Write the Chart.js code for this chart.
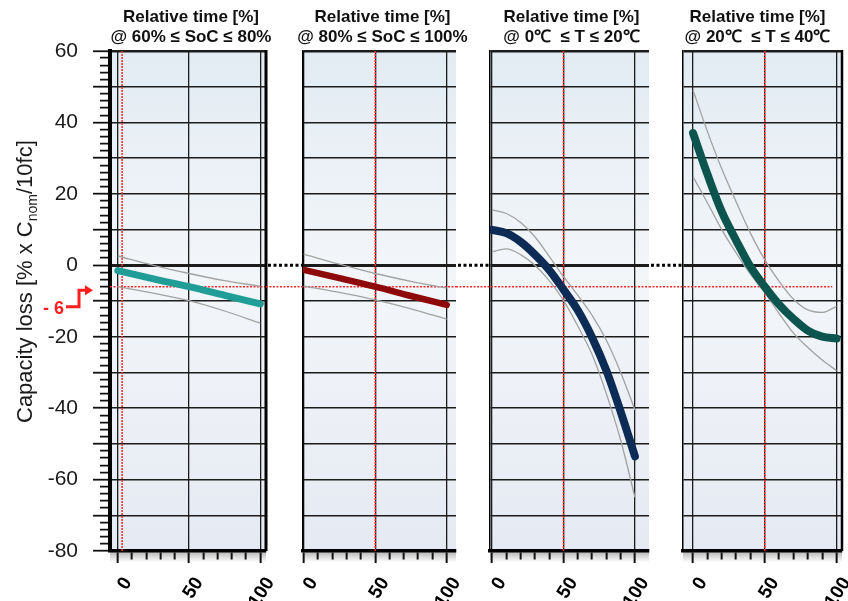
<!DOCTYPE html>
<html>
<head>
<meta charset="utf-8">
<script src="https://cdn.jsdelivr.net/npm/chart.js@4.4.0/dist/chart.umd.min.js"></script>
<style>
  html, body { margin: 0; padding: 0; background: #fff; }
  #wrap { position: relative; width: 848px; height: 601px; }
  #wrap canvas { position: absolute; left: 0; top: 0; }
</style>
</head>
<body>
<div id="wrap">
  <canvas id="p1" width="848" height="601"></canvas>
  <canvas id="p2" width="848" height="601"></canvas>
  <canvas id="p3" width="848" height="601"></canvas>
  <canvas id="p4" width="848" height="601"></canvas>
</div>
<script>
// relative time [%] and capacity loss [% x Cnom/10fc]
const xSoc = [0, 25, 50, 75, 100];
const soc6080Mean = [-1.5, -3.8, -6.0, -8.4, -10.8];
const soc6080Upper = [2.6, 0.0, -2.3, -4.3, -5.9];
const soc6080Lower = [-6.0, -7.8, -9.9, -12.8, -16.2];

const soc80100Mean = [-1.3, -3.6, -6.0, -8.6, -11.1];
const soc80100Upper = [3.1, 0.3, -2.3, -4.5, -6.4];
const soc80100Lower = [-5.8, -7.6, -9.7, -12.2, -15.1];

const xTemp = [0, 10, 20, 30, 40, 50, 60, 70, 80, 90, 100];
const t0020Mean = [9.9, 9.0, 6.6, 3.0, -1.3, -6.8, -12.6, -20.2, -29.5, -41, -53.5];
const t0020Upper = [15.5, 14.5, 12, 8, 2.5, -3.2, -8.4, -14, -21, -30, -40.5];
const t0020Lower = [3.8, 4.6, 3.0, 0, -4.3, -9.8, -17, -25, -36, -49, -65];

const t2040Mean = [37, 25.5, 15, 7, -0.4, -6, -11, -15, -18.3, -20, -20.5];
const t2040Upper = [49, 37.5, 27, 17.8, 9, 1.5, -4.5, -9.5, -12.5, -13.2, -11.5];
const t2040Lower = [24.8, 17.5, 10, 3.5, -2.5, -7.7, -13.5, -19, -23, -26.5, -29.5];

const panelTitles = [
  ['Relative time [%]', '@ 60% \u2264 SoC \u2264 80%'],
  ['Relative time [%]', '@ 80% \u2264 SoC \u2264 100%'],
  ['Relative time [%]', '@ 0\u2103  \u2264 T \u2264 20\u2103'],
  ['Relative time [%]', '@ 20\u2103  \u2264 T \u2264 40\u2103']
];
const xTicks = [0, 10, 20, 30, 40, 50, 60, 70, 80, 90, 100];
const xLabels = [0, 50, 100];
const yLabels = [60, 40, 20, 0, -20, -40, -60, -80];
const refLoss = -6;

const FONT = "'Liberation Sans', Arial, sans-serif";
const W = 848;

function toXY(xs, ys) {
  return xs.map((x, i) => ({ x: x, y: ys[i] }));
}

const decor = {
  id: 'decor',
  beforeDraw(chart, args, o) {
    const { ctx, chartArea: a } = chart;
    ctx.save();
    const g = ctx.createLinearGradient(0, a.top, 0, a.bottom);
    g.addColorStop(0, '#e2ebf3');
    g.addColorStop(0.45, '#f3f6f9');
    g.addColorStop(1, '#e5e9f2');
    ctx.fillStyle = g;
    ctx.fillRect(a.left, a.top, a.width, a.height);
    const sg = ctx.createLinearGradient(0, a.bottom, 0, a.bottom + 11);
    sg.addColorStop(0, 'rgba(0,0,0,0.3)');
    sg.addColorStop(1, 'rgba(0,0,0,0)');
    ctx.fillStyle = sg;
    ctx.fillRect(a.left, a.bottom, a.width, 11);
    ctx.restore();
  },
  beforeDatasetsDraw(chart, args, o) {
    const { ctx, chartArea: a, scales } = chart;
    ctx.save();
    // red marker at the reference time
    const rx = scales.x.getPixelForValue(o.redX);
    ctx.strokeStyle = '#ff2a2a';
    ctx.lineWidth = 1.5;
    ctx.setLineDash([2, 1]);
    ctx.beginPath();
    ctx.moveTo(rx, a.top);
    ctx.lineTo(rx, a.bottom);
    ctx.stroke();
    // red dotted -6 line, also across the gap before the panel
    const ry = scales.y.getPixelForValue(refLoss);
    const rEnd = o.redEnd !== undefined ? scales.x.getPixelForValue(o.redEnd) : a.right;
    ctx.setLineDash([2, 1.5]);
    ctx.beginPath();
    ctx.moveTo(o.gapFrom !== undefined ? o.gapFrom : a.left, ry);
    ctx.lineTo(rEnd, ry);
    ctx.stroke();
    // dotted zero connector in the gap
    if (o.gapFrom !== undefined) {
      const zy = scales.y.getPixelForValue(0);
      ctx.strokeStyle = '#000';
      ctx.lineWidth = 3;
      ctx.setLineDash([3, 2.5]);
      ctx.beginPath();
      ctx.moveTo(o.gapFrom + 2, zy);
      ctx.lineTo(a.left - 1, zy);
      ctx.stroke();
    }
    ctx.restore();
  },
  afterDraw(chart, args, o) {
    const { ctx, chartArea: a, scales } = chart;
    ctx.save();
    if (o.rightBorder) {
      ctx.strokeStyle = '#000';
      ctx.lineWidth = o.rightBorder;
      ctx.beginPath();
      ctx.moveTo(a.right, a.top - 1);
      ctx.lineTo(a.right, a.bottom);
      ctx.stroke();
    }
    // panel title
    ctx.fillStyle = '#111';
    ctx.font = 'bold 17px ' + FONT;
    ctx.textAlign = 'center';
    ctx.textBaseline = 'alphabetic';
    const cx = (a.left + a.right) / 2 + (o.titleShift || 0);
    ctx.fillText(o.title[0], cx, 22);
    ctx.fillText(o.title[1], cx, 42);
    if (o.yTitle) {
      ctx.save();
      ctx.translate(32, 423);
      ctx.rotate(-Math.PI / 2);
      ctx.textAlign = 'left';
      ctx.fillStyle = '#1a1a1a';
      ctx.font = '22px ' + FONT;
      const p1 = 'Capacity loss [% x C';
      ctx.fillText(p1, 0, 0);
      let w = ctx.measureText(p1).width;
      ctx.font = '14px ' + FONT;
      ctx.fillText('nom', w, 5);
      w += ctx.measureText('nom').width;
      ctx.font = '22px ' + FONT;
      ctx.fillText('/10fc]', w, 0);
      ctx.restore();

      // "- 6" marker with arrow
      const ry = scales.y.getPixelForValue(refLoss);
      ctx.fillStyle = '#ff1f1f';
      ctx.strokeStyle = '#ff1f1f';
      ctx.font = 'bold 18px ' + FONT;
      ctx.textAlign = 'left';
      ctx.fillText('- 6', 43, ry + 27);
      ctx.lineWidth = 3;
      ctx.beginPath();
      ctx.moveTo(66, ry + 20);
      ctx.lineTo(79, ry + 20);
      ctx.lineTo(79, ry + 3.5);
      ctx.lineTo(86, ry + 3.5);
      ctx.stroke();
      ctx.beginPath();
      ctx.moveTo(85, ry - 1.5);
      ctx.lineTo(93, ry + 3.5);
      ctx.lineTo(85, ry + 8.5);
      ctx.closePath();
      ctx.fill();
    }
    ctx.restore();
  }
};

function makePanel(id, p) {
  const first = !!p.first;
  const yTickVals = [];
  for (let v = -80; v <= 60; v += first ? 2 : 10) yTickVals.push(v);

  return new Chart(document.getElementById(id), {
    type: 'line',
    data: {
      datasets: [
        { data: toXY(p.x, p.mean), borderColor: p.color, borderWidth: p.lw, borderCapStyle: 'round' },
        { data: toXY(p.x, p.upper), borderColor: '#a2a2a2', borderWidth: 1.3 },
        { data: toXY(p.x, p.lower), borderColor: '#a2a2a2', borderWidth: 1.3 }
      ]
    },
    options: {
      responsive: false,
      animation: false,
      events: [],
      layout: { autoPadding: false, padding: { left: first ? 0 : p.left, right: W - p.right, top: 51, bottom: 0 } },
      elements: {
        point: { radius: 0 },
        line: { tension: 0.4, cubicInterpolationMode: 'monotone', fill: false }
      },
      plugins: {
        legend: { display: false },
        tooltip: { enabled: false },
        decor: {
          title: p.title, titleShift: p.titleShift, redX: p.redX, redEnd: p.redEnd,
          gapFrom: p.gapFrom, rightBorder: p.rightBorder, yTitle: first
        }
      },
      scales: {
        x: {
          type: 'linear',
          min: p.xmin,
          max: p.xmax,
          afterBuildTicks: s => { s.ticks = xTicks.map(v => ({ value: v })); },
          afterFit: s => { s.height = 50; s.paddingLeft = 0; s.paddingRight = 0; },
          grid: {
            color: c => (c.tick && c.tick.value % 50 === 0) ? '#1c1c1c' : 'rgba(0,0,0,0)',
            lineWidth: 1.3,
            tickColor: '#111',
            tickWidth: 2,
            tickLength: 12,
            tickBorderDash: c => (c.tick && c.tick.value % 50 === 0) ? [] : [7, 100]
          },
          border: { color: '#000', width: 3.5 },
          ticks: {
            autoSkip: false,
            minRotation: 57,
            maxRotation: 57,
            labelOffset: 10,
            padding: 10,
            color: '#000',
            font: { family: FONT, size: 19, weight: 'bold' },
            callback: v => xLabels.includes(v) ? String(v) : ''
          }
        },
        y: {
          type: 'linear',
          min: -80,
          max: 60,
          afterBuildTicks: s => { s.ticks = yTickVals.map(v => ({ value: v })); },
          afterFit: s => { s.width = first ? p.left : 0; s.paddingTop = 0; s.paddingBottom = 0; },
          grid: {
            color: c => (c.tick && c.tick.value % 10 === 0) ? '#1c1c1c' : 'rgba(0,0,0,0)',
            lineWidth: c => (c.tick && c.tick.value === 0) ? 3 : (c.tick && c.tick.value === 60 ? 2.5 : 1.4),
            drawTicks: first,
            tickColor: '#111',
            tickWidth: 1.8,
            tickLength: 17,
            tickBorderDash: c => (c.tick && c.tick.value % 10 === 0) ? [] : [0, 7, 10, 100]
          },
          border: { color: '#000', width: first ? 4 : 1.5 },
          ticks: {
            display: first,
            autoSkip: false,
            padding: 15,
            color: '#1a1a1a',
            font: { family: FONT, size: 21 },
            callback: v => yLabels.includes(v) ? String(v) : ''
          }
        }
      }
    },
    plugins: [decor]
  });
}

makePanel('p1', {
  first: true, left: 110, right: 266, xmin: -5.5, xmax: 104,
  x: xSoc, mean: soc6080Mean, upper: soc6080Upper, lower: soc6080Lower,
  color: '#1f9d96', lw: 7, title: panelTitles[0], titleShift: 3, redX: 3, rightBorder: 3
});
makePanel('p2', {
  left: 303, right: 456, xmin: -0.5, xmax: 106.5, gapFrom: 266,
  x: xSoc, mean: soc80100Mean, upper: soc80100Upper, lower: soc80100Lower,
  color: '#8e0a0a', lw: 6.5, title: panelTitles[1], titleShift: 3, redX: 50
});
makePanel('p3', {
  left: 490, right: 649, xmin: -1.4, xmax: 109.8, gapFrom: 456,
  x: xTemp, mean: t0020Mean, upper: t0020Upper, lower: t0020Lower,
  color: '#0c2c55', lw: 8, title: panelTitles[2], titleShift: 2, redX: 50
});
makePanel('p4', {
  left: 683, right: 842, xmin: -7, xmax: 103.8, gapFrom: 649, redEnd: 97,
  x: xTemp, mean: t2040Mean, upper: t2040Upper, lower: t2040Lower,
  color: '#0b554e', lw: 8, title: panelTitles[3], titleShift: -5, redX: 50, rightBorder: 2.5
});
</script>
</body>
</html>
